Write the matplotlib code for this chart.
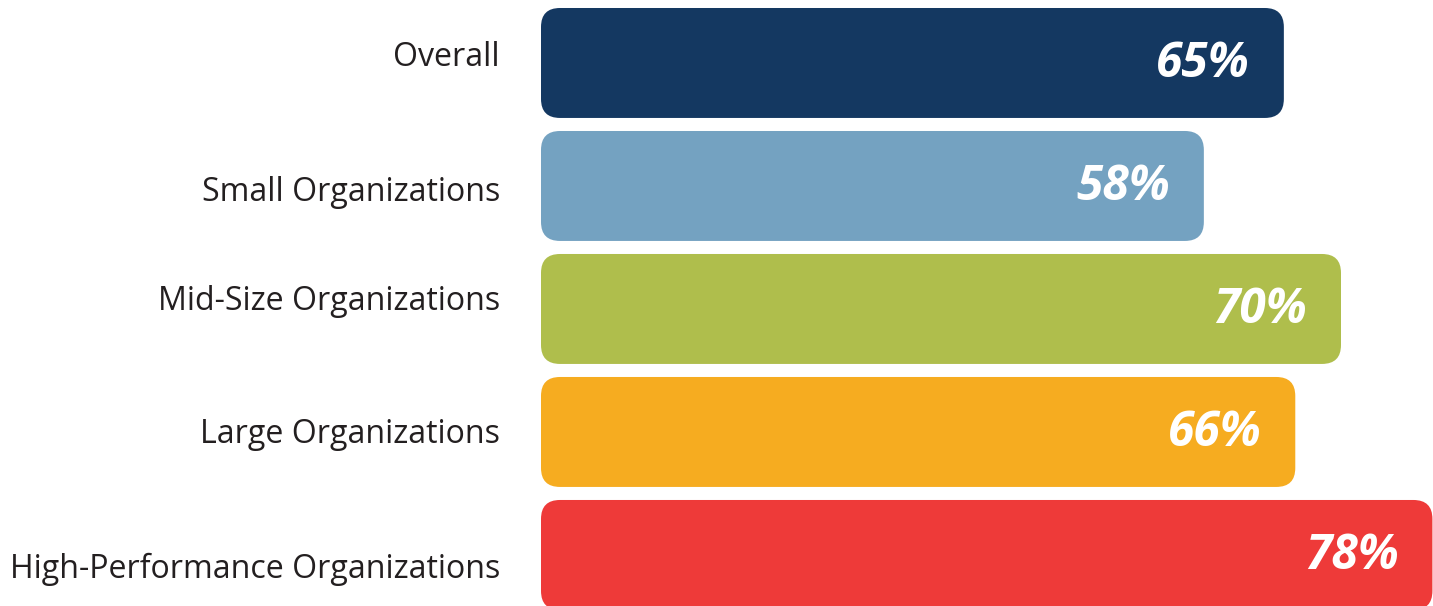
import matplotlib.pyplot as plt
from matplotlib.patches import FancyBboxPatch

categories = ['Overall', 'Small Organizations', 'Mid-Size Organizations',
              'Large Organizations', 'High-Performance Organizations']
values = [65, 58, 70, 66, 78]
colors = ['#143861', '#74A2C1', '#AFBE4C', '#F6AC20', '#EE3A39']

# label nudges (pixels, + is up) to follow the original layout
label_dy = [5, -7, 7, -3, -14]

W, H = 1433, 606
fig = plt.figure(figsize=(W / 100, H / 100), dpi=100)
x0 = 541 / W
ax = fig.add_axes([x0, 0, 1 - x0, 1])

ax.set_xlim(0, 78.05)
ax.set_ylim(4.415, -0.512)
ax.axis('off')

bars = ax.barh(range(len(values)), values, height=0.894, color=colors)

# px per data unit, used to get round corners of equal radius
px_x = (W - 541) / 78.05
px_y = H / (4.415 + 0.512)
radius = 19 / px_x
for bar, c in zip(bars, colors):
    bar.set_visible(False)
    rounded = FancyBboxPatch((bar.get_x(), bar.get_y()), bar.get_width(), bar.get_height(),
                             boxstyle=f'round,pad=0,rounding_size={radius}',
                             mutation_aspect=px_x / px_y,
                             facecolor=c, edgecolor='none')
    ax.add_patch(rounded)

for i, v in enumerate(values):
    ax.annotate(f'{v}%', xy=(v, i), xytext=(-34, -2), textcoords='offset pixels',
                ha='right', va='center', color='white', fontsize=34.5,
                fontweight='bold', fontstyle='italic', family='Open Sans')

for i, (cat, dy) in enumerate(zip(categories, label_dy)):
    ax.annotate(cat, xy=(0, i), xytext=(-41, dy), textcoords='offset pixels',
                ha='right', va='center', color='#231f20', fontsize=23.1,
                family='Open Sans', annotation_clip=False)

fig.savefig('out.png', dpi=100)
